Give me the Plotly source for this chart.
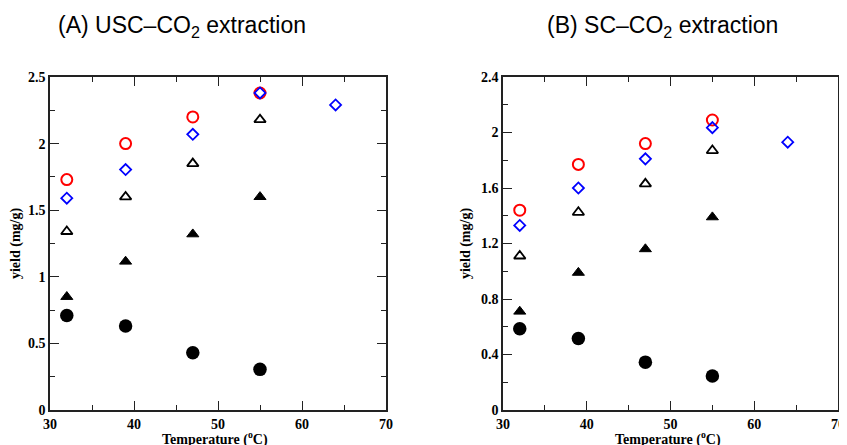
import plotly.graph_objects as go

temps = [32, 39, 47, 55]
temps_ext = [32, 39, 47, 55, 64]

# Panel A: USC-CO2 extraction
a_red_circles = [1.73, 2.00, 2.20, 2.38]
a_blue_diamonds = [1.59, 1.805, 2.07, 2.38, 2.29]
a_open_triangles = [1.34, 1.60, 1.85, 2.18]
a_filled_triangles = [0.85, 1.115, 1.32, 1.60]
a_filled_circles = [0.71, 0.63, 0.43, 0.305]

# Panel B: SC-CO2 extraction
b_red_circles = [1.44, 1.77, 1.92, 2.09]
b_blue_diamonds = [1.33, 1.60, 1.81, 2.035, 1.93]
b_open_triangles = [1.11, 1.425, 1.63, 1.87]
b_filled_triangles = [0.71, 0.99, 1.16, 1.39]
b_filled_circles = [0.585, 0.515, 0.345, 0.245]

x_tickvals = [30, 40, 50, 60, 70]
a_tickvals = [0, 0.5, 1, 1.5, 2, 2.5]
b_tickvals = [0, 0.4, 0.8, 1.2, 1.6, 2, 2.4]

titles = ["(A) USC–CO<sub>2</sub> extraction", "(B) SC–CO<sub>2</sub> extraction"]
x_title = "Temperature (<sup>o</sup>C)"
y_title = "yield (mg/g)"

fig = go.Figure()


def add_panel(xa, ya, red, blue, otri, ftri, fcirc):
    fig.add_trace(go.Scatter(x=temps, y=fcirc, mode="markers", xaxis=xa, yaxis=ya,
                             marker=dict(symbol="circle", size=13.5, color="black"), showlegend=False))
    fig.add_trace(go.Scatter(x=temps, y=ftri, mode="markers", xaxis=xa, yaxis=ya,
                             marker=dict(symbol="triangle-up", size=10.5, color="black",
                                         line=dict(color="black", width=1)), showlegend=False))
    fig.add_trace(go.Scatter(x=temps, y=otri, mode="markers", xaxis=xa, yaxis=ya,
                             marker=dict(symbol="triangle-up-open", size=10, color="black",
                                         line=dict(color="black", width=1.8)), showlegend=False))
    fig.add_trace(go.Scatter(x=temps, y=red, mode="markers", xaxis=xa, yaxis=ya,
                             marker=dict(symbol="circle-open", size=11, color="red",
                                         line=dict(color="red", width=2)), showlegend=False))
    fig.add_trace(go.Scatter(x=temps_ext, y=blue, mode="markers", xaxis=xa, yaxis=ya,
                             marker=dict(symbol="diamond-open", size=8.5, color="blue",
                                         line=dict(color="blue", width=1.8)), showlegend=False))


add_panel("x", "y", a_red_circles, a_blue_diamonds, a_open_triangles, a_filled_triangles, a_filled_circles)
add_panel("x2", "y2", b_red_circles, b_blue_diamonds, b_open_triangles, b_filled_triangles, b_filled_circles)

# the page body has an 8px margin: size the figure to the visible area
OFF = 8
W, H = 847 - OFF, 445 - OFF
tickfont = dict(family="Liberation Serif", size=14, color="black", weight="bold")
titlefont = dict(family="Liberation Serif", size=14, color="black", weight="bold")


def px_x(p):
    return (p - OFF) / W


def px_y(p):
    return 1 - (p - OFF) / H


ydom = [px_y(410), px_y(77)]


def xaxis(dom):
    return dict(domain=dom, range=[30, 70], tickvals=x_tickvals, ticks="inside", ticklen=9,
                tickwidth=1.3, tickcolor="#222", showline=True, linecolor="#222", linewidth=1.6,
                mirror="ticks", showgrid=False, zeroline=False, tickfont=tickfont, automargin=False,
                minor=dict(dtick=5, tick0=30, ticks="inside", ticklen=5, tickwidth=1.3, tickcolor="#222"))


def yaxis(rng, tv, dtick_minor, anchor, mirror):
    return dict(domain=ydom, range=rng, tickvals=tv, ticks="inside", ticklen=9, anchor=anchor,
                tickwidth=1.3, tickcolor="#222", showline=True, linecolor="#222", linewidth=1.6,
                mirror=mirror, showgrid=False, zeroline=False, tickfont=tickfont, automargin=False,
                minor=dict(dtick=dtick_minor, tick0=0, ticks="inside", ticklen=5, tickwidth=1.3, tickcolor="#222"),
                title=dict(text=y_title, font=titlefont, standoff=7))


def xtitle(cx):
    return dict(text=x_title, x=px_x(cx), y=px_y(427), xref="paper", yref="paper", showarrow=False,
                xanchor="center", yanchor="top", font=titlefont)


fig.update_layout(
    width=W, height=H,
    margin=dict(l=0, r=0, t=0, b=0, autoexpand=False),
    paper_bgcolor="white", plot_bgcolor="white",
    xaxis=xaxis([px_x(50), px_x(386)]),
    yaxis=yaxis([0, 2.5], a_tickvals, 0.25, "x", "ticks"),
    xaxis2=dict(xaxis([px_x(503), px_x(838)]), anchor="y2"),
    yaxis2=yaxis([0, 2.4], b_tickvals, 0.2, "x2", True),
    yaxis3=dict(domain=ydom, range=[0, 2.5], overlaying="y2", anchor="x2", side="right",
                tickvals=a_tickvals, ticks="inside", ticklen=9, tickwidth=1.3, tickcolor="#222",
                showticklabels=False, showline=False, showgrid=False, zeroline=False, automargin=False,
                minor=dict(dtick=0.25, tick0=0, ticks="inside", ticklen=5, tickwidth=1.3, tickcolor="#222")),
    annotations=[
        dict(text=titles[0], x=px_x(182), y=px_y(27), xref="paper", yref="paper", showarrow=False,
             xanchor="center", yanchor="middle",
             font=dict(family="Liberation Sans", size=23, color="black")),
        dict(text=titles[1], x=px_x(662), y=px_y(27), xref="paper", yref="paper", showarrow=False,
             xanchor="center", yanchor="middle",
             font=dict(family="Liberation Sans", size=23, color="black")),
        xtitle(215),
        xtitle(668),
    ],
)

fig.write_html("out.html")
